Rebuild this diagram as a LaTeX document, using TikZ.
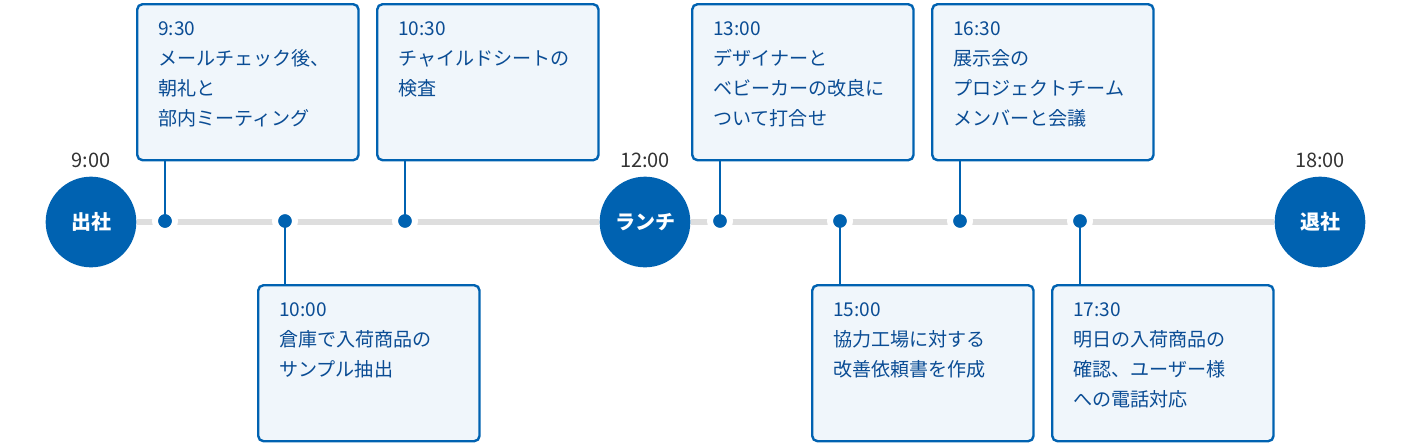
\documentclass[tikz,border=0pt]{standalone}
\usepackage{fontspec}
\setmainfont{Noto Sans CJK JP}
\usetikzlibrary{positioning}
\definecolor{MainBlue}{HTML}{0062B1}
\definecolor{BoxFill}{HTML}{F0F6FB}
\definecolor{TextBlue}{HTML}{0A4C94}
\begin{document}
\begin{tikzpicture}
[
x=0.75pt, y=-0.75pt,
every node/.style={font=\fontsize{14.3}{22.5}\selectfont},
Stop/.style={circle, fill=MainBlue, minimum size=68pt, inner sep=0pt, text=white, font=\fontsize{15}{17}\selectfont\bfseries},
Dot/.style={circle, fill=MainBlue, draw=white, line width=4.5pt, minimum size=15pt, inner sep=0pt},
Card/.style={rectangle, rounded corners=4pt, draw=MainBlue, fill=BoxFill, line width=1.8pt, minimum width=166pt, minimum height=117pt, anchor=north west},
CardText/.style={anchor=north west, align=left, text=TextBlue, inner sep=0pt},
TimeText/.style={text=black!80, font=\fontsize{15}{17}\selectfont},
Track/.style={line width=4pt, draw=black!13},
Link/.style={line width=1.8pt, draw=MainBlue},
]
\useasboundingbox (0,0) rectangle (1410,444);

% stops
\node[Stop] (start) at (91,222) {出社};
\node[Stop] (lunch) at (645,222) {ランチ};
\node[Stop] (leave) at (1320,222) {退社};
\node[TimeText] (tstart) at (91,160) {9:00};
\node[TimeText] (tlunch) at (645,160) {12:00};
\node[TimeText] (tleave) at (1320,160) {18:00};

\draw[Track] (start.east) -- (lunch.west);
\draw[Track] (lunch.east) -- (leave.west);

% dots
\foreach \n/\x in {d1/165,d2/285,d3/405,d4/720,d5/840,d6/960,d7/1080}
  \node[Dot] (\n) at (\x,221) {};

% cards above
\node[Card] (c1) at (136,3) {};
\node[Card] (c3) at (376,3) {};
\node[Card] (c4) at (691,3) {};
\node[Card] (c6) at (931,3) {};
% cards below
\node[Card] (c2) at (257,284) {};
\node[Card] (c5) at (811,284) {};
\node[Card] (c7) at (1051,284) {};

\node[CardText] (x1) at (158,21) {9:30\\メールチェック後、\\朝礼と\\部内ミーティング};
\node[CardText] (x3) at (398,21) {10:30\\チャイルドシートの\\検査};
\node[CardText] (x4) at (713,21) {13:00\\デザイナーと\\ベビーカーの改良に\\ついて打合せ};
\node[CardText] (x6) at (953,21) {16:30\\展示会の\\プロジェクトチーム\\メンバーと会議};
\node[CardText] (x2) at (279,302) {10:00\\倉庫で入荷商品の\\サンプル抽出};
\node[CardText] (x5) at (833,302) {15:00\\協力工場に対する\\改善依頼書を作成};
\node[CardText] (x7) at (1073,302) {17:30\\明日の入荷商品の\\確認、ユーザー様\\への電話対応};

% links
\draw[Link] (d1.center) -- (d1.center |- c1.south);
\draw[Link] (d3.center) -- (d3.center |- c3.south);
\draw[Link] (d4.center) -- (d4.center |- c4.south);
\draw[Link] (d6.center) -- (d6.center |- c6.south);
\draw[Link] (d2.center) -- (d2.center |- c2.north);
\draw[Link] (d5.center) -- (d5.center |- c5.north);
\draw[Link] (d7.center) -- (d7.center |- c7.north);
\foreach \n in {d1,...,d7}
  \fill[MainBlue] (\n) circle (6.5);
\end{tikzpicture}
\end{document}
